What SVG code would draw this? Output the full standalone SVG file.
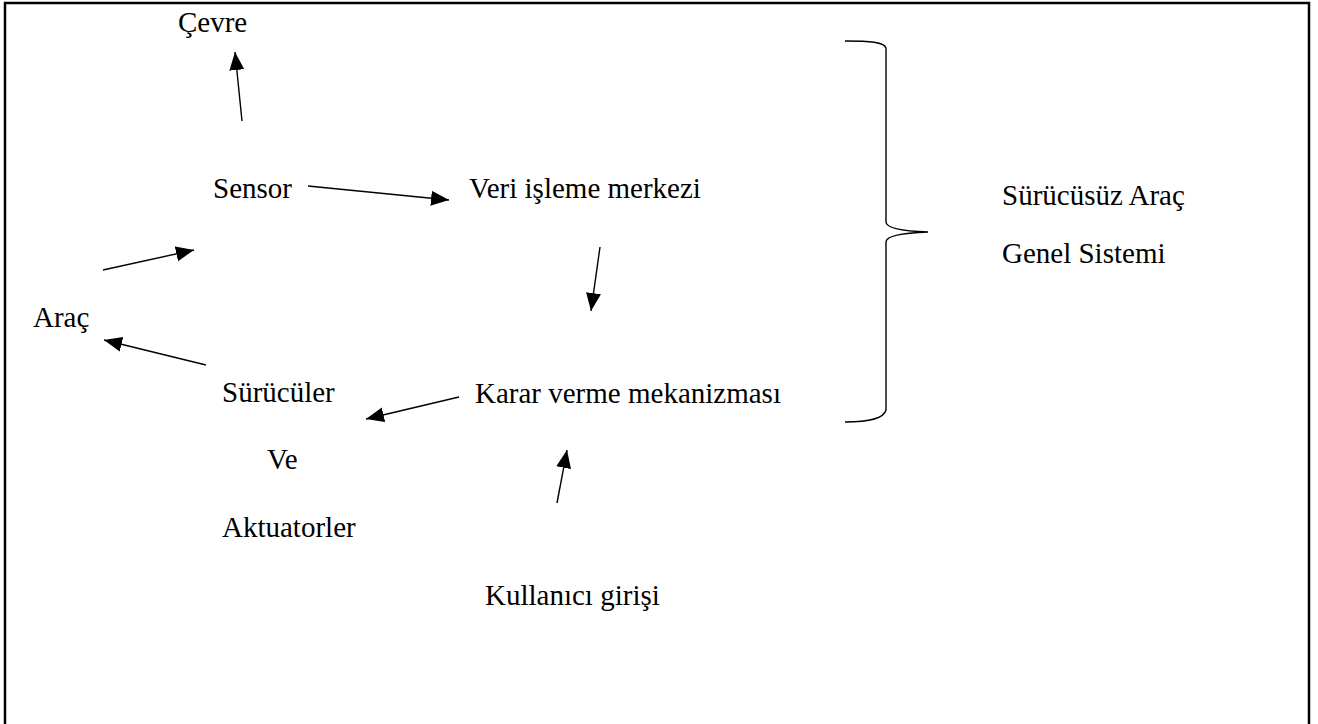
<svg xmlns="http://www.w3.org/2000/svg" width="1318" height="724" viewBox="0 0 1318 724">
  <style>
    text { font-family: "Liberation Serif", "Times New Roman", serif; font-size: 29px; fill: #000; }
    .conn { stroke: #000; stroke-width: 1.4; fill: none; marker-end: url(#ah); }
    .brace { stroke: #000; stroke-width: 1.4; fill: none; }
  </style>
  <defs>
    <marker id="ah" markerUnits="userSpaceOnUse" markerWidth="19" markerHeight="16" refX="18" refY="7.5" orient="auto">
      <path d="M0,0 L18,7.5 L0,15 Z" fill="#000"/>
    </marker>
  </defs>
  <rect x="0" y="0" width="1318" height="724" fill="#fff"/>
  <rect x="5" y="3" width="1304" height="760" fill="none" stroke="#000" stroke-width="2.5"/>

  <g id="cevre"><text x="178" y="32">Çevre</text></g>
  <g id="sensor"><text x="213" y="198">Sensor</text></g>
  <g id="veri"><text x="469" y="198">Veri işleme merkezi</text></g>
  <g id="arac"><text x="33" y="327">Araç</text></g>
  <g id="suruculer"><text x="222" y="402">Sürücüler</text><text x="267" y="469">Ve</text><text x="222" y="537">Aktuatorler</text></g>
  <g id="karar"><text x="475" y="403">Karar verme mekanizması</text></g>
  <g id="kullanici"><text x="485" y="605">Kullanıcı girişi</text></g>
  <g id="sistem"><text x="1002" y="205">Sürücüsüz Araç</text><text x="1002" y="263">Genel Sistemi</text></g>

  <g id="connectors">
    <line class="conn" x1="242" y1="121" x2="235" y2="52"/>
    <line class="conn" x1="308" y1="186" x2="449" y2="200"/>
    <line class="conn" x1="103" y1="270" x2="194" y2="250"/>
    <line class="conn" x1="206" y1="365" x2="104" y2="340"/>
    <line class="conn" x1="459" y1="397" x2="366" y2="419"/>
    <line class="conn" x1="600" y1="247" x2="591" y2="311"/>
    <line class="conn" x1="557" y1="503" x2="567" y2="450"/>
    <path class="brace" d="M845,41 C870,41 884,42 886,48 L886,222 C886,228 900,231 928,232 C900,233 886,236 886,242 L886,410 C884,418 870,422 845,422"/>
  </g>
</svg>
